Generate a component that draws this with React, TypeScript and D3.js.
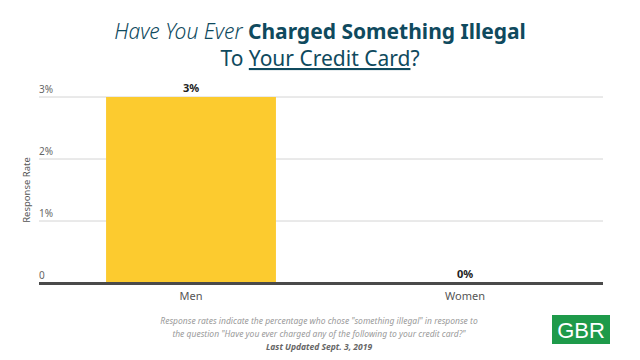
import { useEffect, useRef } from "react";
import * as d3 from "d3";

const categories = ["Men", "Women"];
const values = [3, 0];
const yTicks = [0, 1, 2, 3];
const tickLabels = ["0", "1%", "2%", "3%"];
const footnote = [
  "Response rates indicate the percentage who chose \"something illegal\" in response to",
  "the question \"Have you ever charged any of the following to your credit card?\"",
];
const updated = "Last Updated Sept. 3, 2019";

const W = 640;
const H = 360;
const titleColor = "#0f4a5e";
const font = "'Source Sans Pro', 'Noto Sans', 'Open Sans', sans-serif";

export default function App() {
  const gy = useRef<SVGGElement>(null);

  const x = d3
    .scaleBand<string>()
    .domain(categories)
    .range([54, 602])
    .paddingInner(0.38)
    .paddingOuter(0.19);
  const y = d3.scaleLinear().domain([0, 3]).range([283, 97]);
  const plotLeft = 39;
  const plotRight = 603;

  useEffect(() => {
    const g = d3.select(gy.current);
    g.selectAll("*").remove();
    const t = g.selectAll("g").data(yTicks).join("g");
    t.append("line")
      .attr("x1", plotLeft)
      .attr("x2", plotRight)
      .attr("y1", (d) => y(d))
      .attr("y2", (d) => y(d))
      .attr("stroke", "#d4d4d4")
      .attr("stroke-width", 1);
    t.append("text")
      .attr("x", plotLeft)
      .attr("y", (d) => y(d) - 4)
      .attr("font-size", 10)
      .attr("fill", "#666")
      .attr("font-family", font)
      .text((d, i) => tickLabels[i]);
  }, []);

  return (
    <svg
      width={W}
      height={H}
      style={{ position: "absolute", left: 0, top: 0, background: "#fff" }}
    >
      <text x={W / 2} y={39} textAnchor="middle" fontFamily={font} fontSize={21} fill={titleColor}>
        <tspan fontStyle="italic" fontWeight={300}>Have You Ever </tspan>
        <tspan fontWeight={700}>Charged Something Illegal</tspan>
      </text>
      <text x={W / 2} y={66} textAnchor="middle" fontFamily={font} fontSize={21} fill={titleColor}>
        <tspan>To </tspan>
        <tspan textDecoration="underline">Your Credit Card</tspan>
        <tspan>?</tspan>
      </text>

      <g ref={gy}></g>

      {categories.map((c, i) => (
        <rect
          key={c}
          x={x(c)}
          y={y(values[i])}
          width={x.bandwidth()}
          height={y(0) - y(values[i])}
          fill="#fccb2f"
        />
      ))}
      <line x1={plotLeft} x2={plotRight} y1={y(0) + 0.5} y2={y(0) + 0.5} stroke="#4a4a4a" strokeWidth={3} />
      {categories.map((c, i) => (
        <text
          key={c}
          x={(x(c) ?? 0) + x.bandwidth() / 2}
          y={y(values[i]) - 5}
          textAnchor="middle"
          fontFamily={font}
          fontWeight={700}
          fontSize={11}
          fill="#222"
        >
          {values[i]}%
        </text>
      ))}
      {categories.map((c) => (
        <text
          key={c}
          x={(x(c) ?? 0) + x.bandwidth() / 2}
          y={300}
          textAnchor="middle"
          fontFamily={font}
          fontSize={11}
          fill="#555"
        >
          {c}
        </text>
      ))}
      <text
        transform={`translate(30,${(y(0) + y(3)) / 2}) rotate(-90)`}
        textAnchor="middle"
        fontFamily={font}
        fontSize={9.5}
        fill="#555"
      >
        Response Rate
      </text>

      {footnote.map((l, i) => (
        <text
          key={i}
          x={319}
          y={324 + i * 13}
          textAnchor="middle"
          fontFamily={font}
          fontStyle="italic"
          fontSize={8.5}
          fill="#9a9a9a"
        >
          {l}
        </text>
      ))}
      <text
        x={319}
        y={350}
        textAnchor="middle"
        fontFamily={font}
        fontStyle="italic"
        fontWeight={700}
        fontSize={8.5}
        fill="#666"
      >
        {updated}
      </text>

      <rect x={552} y={315} width={58} height={29} fill="#1e9a4a" />
      <text
        x={581}
        y={338}
        textAnchor="middle"
        fontFamily="'Liberation Sans', Arial, sans-serif"
        fontSize={22}
        fill="#fff"
      >
        GBR
      </text>
    </svg>
  );
}
